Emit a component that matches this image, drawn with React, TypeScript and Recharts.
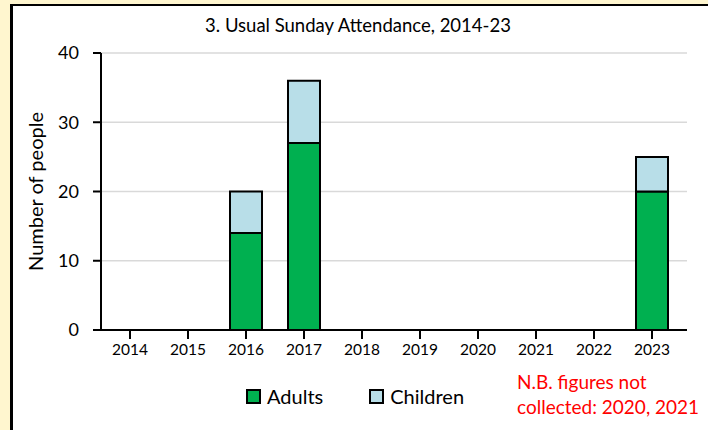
import React from "react";
import { BarChart, Bar, XAxis, YAxis, CartesianGrid, Legend } from "recharts";

const years = ["2014", "2015", "2016", "2017", "2018", "2019", "2020", "2021", "2022", "2023"];
const adults = [0, 0, 14, 27, 0, 0, 0, 0, 0, 20];
const children = [0, 0, 6, 9, 0, 0, 0, 0, 0, 5];
const yTicks = [0, 10, 20, 30, 40];

const seriesInfo = [
  { key: "Adults", color: "#00B050" },
  { key: "Children", color: "#B8DEE8" },
];

const data = years.map((y, i) => ({ year: y, Adults: adults[i], Children: children[i] }));

const FONT = "Lato, 'Open Sans', sans-serif";

function LegendContent() {
  return (
    <div style={{ display: "flex", alignItems: "center", fontFamily: FONT, fontSize: 20 }}>
      {seriesInfo.map((s, i) => (
        <div key={s.key} style={{ display: "flex", alignItems: "center", marginRight: i === 0 ? 46 : 0 }}>
          <span
            style={{
              display: "inline-block",
              width: 11,
              height: 11,
              background: s.color,
              border: "2px solid #000",
              marginRight: 6,
            }}
          />
          <span>{s.key}</span>
        </div>
      ))}
    </div>
  );
}

export default function App() {
  return (
    <div style={{ position: "absolute", left: 0, top: 0, width: 708, height: 430, background: "#FFF6CF", overflow: "hidden" }}>
      <div
        style={{
          position: "absolute",
          left: 10,
          top: 4,
          width: 720,
          height: 440,
          background: "#fff",
          borderLeft: "3px solid #000",
          borderTop: "2px solid #000",
        }}
      />
      <div
        style={{
          position: "absolute",
          left: 0,
          width: 716,
          top: 14,
          textAlign: "center",
          fontFamily: FONT,
          fontSize: 18.5,
          color: "#000",
        }}
      >
        3. Usual Sunday Attendance, 2014-23
      </div>
      <div style={{ position: "absolute", left: 0, top: 0 }}>
        <BarChart width={708} height={430} data={data} margin={{ top: 53, right: 21, bottom: 70, left: 0 }}>
          <CartesianGrid vertical={false} stroke="#d9d9d9" strokeWidth={1.5} />
          <XAxis
            dataKey="year"
            height={30}
            padding={{ left: 0, right: 6 }}
            axisLine={{ stroke: "#000", strokeWidth: 2 }}
            tickLine={{ stroke: "#000", strokeWidth: 2 }}
            tickSize={9}
            tickMargin={5}
            tick={{ fill: "#000", fontSize: 15.5, fontFamily: FONT }}
            interval={0}
          />
          <YAxis
            width={101}
            domain={[0, 40]}
            ticks={yTicks}
            axisLine={{ stroke: "#000", strokeWidth: 2 }}
            tickLine={{ stroke: "#000", strokeWidth: 2 }}
            tickSize={8}
            tickMargin={14}
            tick={{ fill: "#000", fontSize: 18, fontFamily: FONT }}
            label={{
              value: "Number of people",
              angle: -90,
              position: "insideLeft",
              offset: 36,
              style: { textAnchor: "middle", fill: "#000", fontSize: 20, fontFamily: FONT },
            }}
          />
          <Legend
            layout="vertical"
            align="center"
            verticalAlign="middle"
            content={<LegendContent />}
            wrapperStyle={{ left: 246, top: 384, width: 260, height: 24 }}
          />
          {seriesInfo.map((s) => (
            <Bar
              key={s.key}
              dataKey={s.key}
              stackId="a"
              fill={s.color}
              stroke="#000"
              strokeWidth={2}
              barSize={32}
              isAnimationActive={false}
            />
          ))}
        </BarChart>
      </div>
      <div
        style={{
          position: "absolute",
          left: 517,
          top: 369,
          fontFamily: FONT,
          fontSize: 19,
          lineHeight: "25px",
          color: "#FF0000",
          whiteSpace: "nowrap",
        }}
      >
        N.B. figures not
        <br />
        collected: 2020, 2021
      </div>
    </div>
  );
}
